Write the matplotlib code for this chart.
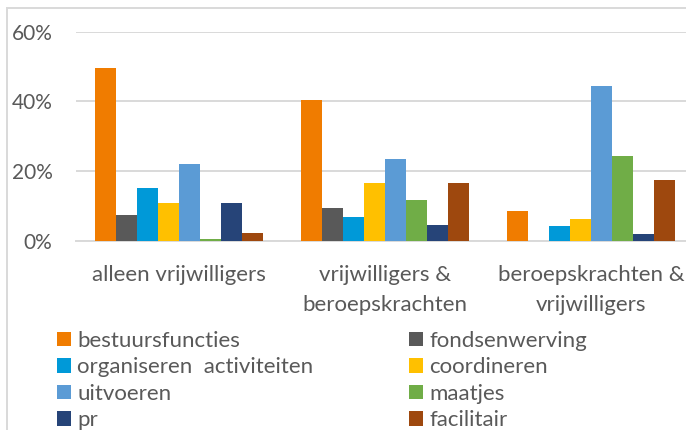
import numpy as np
import matplotlib
matplotlib.use("Agg")
import matplotlib.pyplot as plt
from matplotlib.patches import Rectangle

# data (percentages)
groepen = ["alleen vrijwilligers", "vrijwilligers &\nberoepskrachten", "beroepskrachten &\nvrijwilligers"]
taken = ["bestuursfuncties", "fondsenwerving", "organiseren  activiteiten", "coordineren",
         "uitvoeren", "maatjes", "pr", "facilitair"]
kleuren = ["#F07C00", "#595959", "#0099D8", "#FFC000", "#5B9BD5", "#70AD47", "#264478", "#9E480E"]

bestuursfuncties = [49.5, 40.4, 8.7]
fondsenwerving = [7.5, 9.4, 0.0]
organiseren = [15.1, 6.9, 4.2]
coordineren = [10.9, 16.5, 6.3]
uitvoeren = [22.1, 23.6, 44.3]
maatjes = [0.6, 11.7, 24.3]
pr = [10.9, 4.5, 1.9]
facilitair = [2.3, 16.5, 17.6]
waarden = [bestuursfuncties, fondsenwerving, organiseren, coordineren,
           uitvoeren, maatjes, pr, facilitair]
y_ticks = [0, 20, 40, 60]

plt.rcParams['font.family'] = ['Lato', 'DejaVu Sans']
tekstkleur = "#595959"
grijs = "#D9D9D9"

W, H = 686, 430
fig = plt.figure(figsize=(W / 100, H / 100), dpi=100)

# plot area in pixels: x 76..686, y 31.5..241
ax = fig.add_axes([76 / W, 1 - 241 / H, (686 - 76) / W, (241 - 31.5) / H])

x = np.arange(len(groepen))
breedte = 21 / 206
handles = []
for i, (naam, kleur, vals) in enumerate(zip(taken, kleuren, waarden)):
    pos = x - 4 * breedte + (i + 0.5) * breedte
    b = ax.bar(pos, np.array(vals) / 100, breedte, color=kleur, label=naam, zorder=3)
    handles.append(b)

ax.set_xlim(-0.5, -0.5 + (686 - 76) / 206)
ax.set_ylim(0, 0.6)
ax.set_yticks([t / 100 for t in y_ticks])
ax.set_yticklabels([f"{t}%" for t in y_ticks], fontsize=15)
ax.yaxis.grid(True, color=grijs, linewidth=1.4, zorder=0)
ax.set_xticks(x)
ax.set_xticklabels(groepen, linespacing=1.6, fontsize=16)
ax.tick_params(axis='both', length=0, colors=tekstkleur)
ax.tick_params(axis='y', pad=17)
ax.tick_params(axis='x', pad=17.5)
for s in ["top", "right", "left"]:
    ax.spines[s].set_visible(False)
ax.spines["bottom"].set_color(grijs)
ax.spines["bottom"].set_linewidth(1.4)

# legend, filled column by column
volgorde = [0, 2, 4, 6, 1, 3, 5, 7]
leg = fig.legend([handles[i] for i in volgorde], [taken[i] for i in volgorde],
                 ncol=2, loc="upper left", bbox_to_anchor=(57 / W, 1 - 331 / H),
                 frameon=False, fontsize=16, handlelength=0.63, handleheight=0.63,
                 handletextpad=0.28, labelspacing=0.29, columnspacing=4.32,
                 borderpad=0, borderaxespad=0)
for t in leg.get_texts():
    t.set_color(tekstkleur)

# chart border (left and top visible)
fig.add_artist(Rectangle((7 / W, -0.2), 1.5, 1.2 - 8 / H, transform=fig.transFigure,
                         facecolor="none", edgecolor=grijs, linewidth=1.4))

fig.savefig("out.png", dpi=100)
